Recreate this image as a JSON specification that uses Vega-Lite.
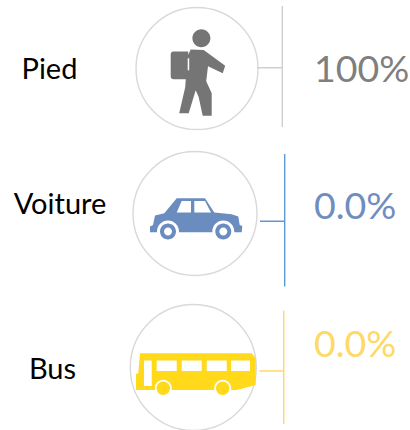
{"$schema":"https://vega.github.io/schema/vega-lite/v6.json","width":410,"height":430,"padding":0,"autosize":{"type":"none"},"background":"white","view":{"stroke":null},
"data":{"values":[{"mode":"Pied","rank":1,"share":100,"label":"100%"},{"mode":"Voiture","rank":2,"share":0,"label":"0.0%"},{"mode":"Bus","rank":3,"share":0,"label":"0.0%"}]},
"layer":[
{"mark":{"type":"point","shape":"circle","filled":false,"opacity":1,"strokeWidth":1.4,"color":"#d9d9d9"},"encoding":{
"x":{"field":"rank","type":"quantitative","axis":null,"scale":{"domain":[1,2,3],"range":[197,195,193.3],"zero":false,"nice":false}},
"y":{"field":"rank","type":"quantitative","axis":null,"scale":{"domain":[1,2,3],"range":[68.5,213.5,367.5],"zero":false,"nice":false}},
"size":{"field":"mode","type":"ordinal","legend":null,"scale":{"domain":["Pied","Voiture","Bus"],"range":[14884,15876,15725]}}}},
{"mark":{"type":"point","filled":true,"opacity":1,"size":40000},"encoding":{
"x":{"field":"rank","type":"quantitative","axis":null,"scale":{"domain":[1,2,3],"range":[196.7,196,196],"zero":false,"nice":false}},
"y":{"field":"rank","type":"quantitative","axis":null,"scale":{"domain":[1,2,3],"range":[73.3,218.3,373.3],"zero":false,"nice":false}},
"color":{"field":"mode","type":"nominal","legend":null,"scale":{"domain":["Pied","Voiture","Bus"],"range":["#757575","#6b8cbf","#ffd91a"]}},
"shape":{"field":"mode","type":"nominal","legend":null,"scale":{"domain":["Pied","Voiture","Bus"],"range":[
"M.137,-.35A.09,.09 0 1 1 -.043,-.35A.09,.09 0 1 1 .137,-.35ZM-.23,-.217L-.085,-.217L-.085,.06L-.23,.06Q-.26,.06 -.26,.03L-.26,-.187Q-.26,-.217 -.23,-.217ZM-.06,-.237L.07,-.233L.285,-.075L.26,0L.113,-.07L.095,.08L.15,.2L.15,.425L.06,.425L.02,.24L-.01,.17L-.08,.4L-.175,.4L-.115,.14L-.093,-.167Z",
"M-.46,.083L-.46,.14L.457,.14L.463,.077L.437,.067L.423,-.017L.357,-.04L.183,-.057L.09,-.2L-.193,-.2L-.317,-.05L-.41,-.027L-.43,.067Z",
"M-.56,-.2L.557,-.2L.597,-.15L.597,.117L.407,.167L-.6,.167L-.6,.007L-.577,0Z"]}}}},
{"mark":{"type":"point","filled":true,"opacity":1,"size":40000,"color":"#ffffff"},"encoding":{
"x":{"field":"rank","type":"quantitative","axis":null,"scale":{"domain":[1,2,3],"range":[196.7,196,196],"zero":false,"nice":false}},
"y":{"field":"rank","type":"quantitative","axis":null,"scale":{"domain":[1,2,3],"range":[73.3,218.3,373.3],"zero":false,"nice":false}},
"shape":{"field":"mode","type":"nominal","legend":null,"scale":{"domain":["Pied","Voiture","Bus"],"range":[
"M-.09,-.15L-.075,-.15L-.075,-.03L-.09,-.03Z",
"M-.193,-.057L-.05,-.057L-.05,-.173L-.143,-.173ZM-.017,-.173L.09,-.173L.15,-.057L-.017,-.057ZM-.17,.133A.11,.11 0 1 1 -.39,.133A.11,.11 0 1 1 -.17,.133ZM.383,.133A.11,.11 0 1 1 .163,.133A.11,.11 0 1 1 .383,.133Z",
"M-.52,-.127L-.443,-.127L-.443,.127L-.52,.127ZM-.393,-.127L-.193,-.127L-.193,-.023L-.393,-.023ZM-.143,-.127L.057,-.127L.057,-.023L-.143,-.023ZM.107,-.127L.307,-.127L.307,-.023L.107,-.023ZM.35,-.127L.54,-.127L.54,-.023L.35,-.023ZM-.242,.15A.085,.085 0 1 1 -.412,.15A.085,.085 0 1 1 -.242,.15ZM.352,.15A.085,.085 0 1 1 .182,.15A.085,.085 0 1 1 .352,.15Z"]}}}},
{"transform":[{"filter":"datum.mode !== 'Pied'"}],"mark":{"type":"point","filled":true,"opacity":1,"size":40000},"encoding":{
"x":{"field":"rank","type":"quantitative","axis":null,"scale":{"domain":[1,2,3],"range":[196.7,196,196],"zero":false,"nice":false}},
"y":{"field":"rank","type":"quantitative","axis":null,"scale":{"domain":[1,2,3],"range":[73.3,218.3,373.3],"zero":false,"nice":false}},
"color":{"field":"mode","type":"nominal","legend":null,"scale":{"domain":["Voiture","Bus"],"range":["#6b8cbf","#ffd91a"]}},
"shape":{"field":"mode","type":"nominal","legend":null,"scale":{"domain":["Voiture","Bus"],"range":[
"M-.2,.133A.08,.08 0 1 1 -.36,.133A.08,.08 0 1 1 -.2,.133ZM.353,.133A.08,.08 0 1 1 .193,.133A.08,.08 0 1 1 .353,.133Z",
"M-.26,.15A.067,.067 0 1 1 -.394,.15A.067,.067 0 1 1 -.26,.15ZM.334,.15A.067,.067 0 1 1 .2,.15A.067,.067 0 1 1 .334,.15Z"]}}}},
{"transform":[{"filter":"datum.mode === 'Voiture'"}],"mark":{"type":"point","filled":true,"opacity":1,"size":40000,"color":"#ffffff","shape":"M-.24,.133A.04,.04 0 1 1 -.32,.133A.04,.04 0 1 1 -.24,.133ZM.313,.133A.04,.04 0 1 1 .233,.133A.04,.04 0 1 1 .313,.133Z"},"encoding":{
"x":{"field":"rank","type":"quantitative","axis":null,"scale":{"domain":[1,2,3],"range":[196.7,196,196],"zero":false,"nice":false}},
"y":{"field":"rank","type":"quantitative","axis":null,"scale":{"domain":[1,2,3],"range":[73.3,218.3,373.3],"zero":false,"nice":false}}}},
{"mark":{"type":"point","filled":false,"opacity":1,"size":40000,"strokeWidth":1.4},"encoding":{
"x":{"field":"rank","type":"quantitative","axis":null,"scale":{"domain":[1,2,3],"range":[282.3,284.7,283.7],"zero":false,"nice":false}},
"y":{"field":"rank","type":"quantitative","axis":null,"scale":{"domain":[1,2,3],"range":[66.5,220.3,367.3],"zero":false,"nice":false}},
"color":{"field":"mode","type":"nominal","legend":null,"scale":{"domain":["Pied","Voiture","Bus"],"range":["#cfcfcf","#5b9bd5","#ffd966"]}},
"shape":{"field":"mode","type":"nominal","legend":null,"scale":{"domain":["Pied","Voiture","Bus"],"range":["M0,-.605L0,.605M-.253,.012L0,.012","M0,-.663L0,.663M-.247,.01L0,.01","M0,-.567L0,.567M-.244,.037L0,.037"]}}}},
{"mark":{"type":"text","font":"Lato","fontSize":29,"align":"center","baseline":"middle","color":"#000000"},"encoding":{
"x":{"field":"rank","type":"quantitative","axis":null,"scale":{"domain":[1,2,3],"range":[49.5,60,52.5],"zero":false,"nice":false}},
"y":{"field":"rank","type":"quantitative","axis":null,"scale":{"domain":[1,2,3],"range":[70,205,370],"zero":false,"nice":false}},
"text":{"field":"mode","type":"nominal"}}},
{"mark":{"type":"text","font":"Lato","fontSize":37.5,"align":"left","baseline":"middle"},"encoding":{
"x":{"field":"rank","type":"quantitative","axis":null,"scale":{"domain":[1,2,3],"range":[314,314,314],"zero":false,"nice":false}},
"y":{"field":"rank","type":"quantitative","axis":null,"scale":{"domain":[1,2,3],"range":[71,208,346],"zero":false,"nice":false}},
"color":{"field":"mode","type":"nominal","legend":null,"scale":{"domain":["Pied","Voiture","Bus"],"range":["#7f7f7f","#6f8dc0","#ffd966"]}},
"text":{"field":"label","type":"nominal"}}}
],
"resolve":{"scale":{"x":"independent","y":"independent","color":"independent","shape":"independent","size":"independent"}}}
